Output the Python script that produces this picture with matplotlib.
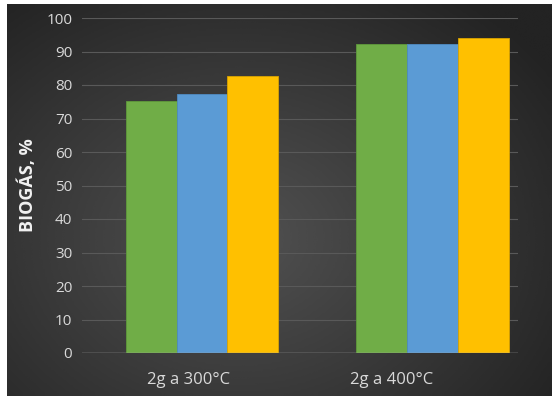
import numpy as np
import matplotlib.pyplot as plt

categorias = ["2g a 300°C", "2g a 400°C"]
verde = [75.3, 92.2]
azul = [77.2, 92.2]
amarillo = [82.6, 93.9]
colores = ["#70AD47", "#5B9BD5", "#FFC000"]
bordes = ["#5f9a3b", "#4f8bc2", "#d9a300"]

plt.rcParams['font.family'] = ['Open Sans', 'DejaVu Sans']

fig = plt.figure(figsize=(5.52, 3.98), dpi=100, facecolor="white")

# fondo con degradado radial
fondo = fig.add_axes([7/552, 2/398, 1 - 7/552, 1 - 6/398])
yy, xx = np.mgrid[-1:1:200j, -1:1:280j]
r = np.sqrt((xx + 0.15)**2 + ((yy - 0.2) * 0.9)**2)
grad = np.clip(0.32 - 0.13 * r, 0.14, 0.32)
fondo.imshow(grad, cmap="gray", vmin=0, vmax=1, aspect="auto", interpolation="bicubic")
fondo.set_axis_off()

ax = fig.add_axes([82/552, 1 - 353/398, 436/552, 335/398])
ax.patch.set_alpha(0)

x = np.arange(len(categorias))
w = 0.22
series = [verde, azul, amarillo]
for i, s in enumerate(series):
    ax.bar(x + (i - 1) * w, s, w, color=colores[i], edgecolor=bordes[i], linewidth=0.6, zorder=3)

ax.set_ylim(0, 100)
ax.set_xlim(-0.52, 1.371)
ax.set_yticks(range(0, 101, 10))
ax.set_xticks(x + np.array([-0.056, -0.176]))
ax.set_xticklabels(categorias, fontsize=12, color="#d9d9d9")
ax.tick_params(axis="y", labelsize=11, colors="#d9d9d9", length=0, pad=7)
ax.tick_params(axis="x", length=0, pad=14)
ax.grid(axis="y", color="#595959", linewidth=0.8, zorder=0)
ax.axhline(0, color="#a6a6a6", linewidth=1, zorder=4)
for sp in ax.spines.values():
    sp.set_visible(False)

ax.set_ylabel("BIOGÁS, %", fontsize=13, fontweight="bold", color="#f2f2f2", labelpad=7)

plt.savefig("out.png", dpi=100, facecolor="white")
